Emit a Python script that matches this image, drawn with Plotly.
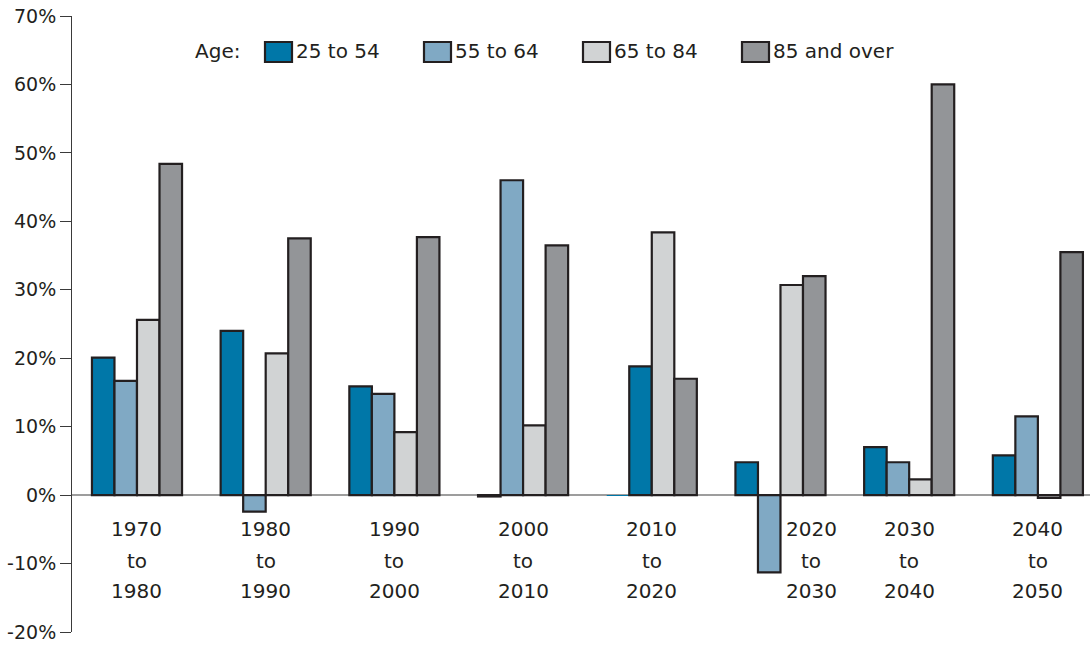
import plotly.graph_objects as go

periods = ["1970 to 1980", "1980 to 1990", "1990 to 2000", "2000 to 2010",
           "2010 to 2020", "2020 to 2030", "2030 to 2040", "2040 to 2050"]
period_start = ["1970", "1980", "1990", "2000", "2010", "2020", "2030", "2040"]
period_end = ["1980", "1990", "2000", "2010", "2020", "2030", "2040", "2050"]

age_25_54 = [20.1, 24.0, 15.9, -0.2, -0.1, 4.8, 7.0, 5.8]
age_55_64 = [16.7, -2.4, 14.8, 46.0, 18.8, -11.3, 4.8, 11.5]
age_65_84 = [25.6, 20.7, 9.2, 10.2, 38.4, 30.7, 2.3, -0.4]
age_85_up = [48.4, 37.5, 37.7, 36.5, 17.0, 32.0, 60.0, 35.5]

series_names = ["25 to 54", "55 to 64", "65 to 84", "85 and over"]
series_values = [age_25_54, age_55_64, age_65_84, age_85_up]
series_colors = ["#0077a8", "#80a9c4", "#d1d3d4", "#939598"]

y_ticks = [-20, -10, 0, 10, 20, 30, 40, 50, 60, 70]

FONT = "DejaVu Sans"
TXT = "#231f20"
OUTLINE = "#231f20"

fig = go.Figure()
n = len(periods)
for name, vals, col in zip(series_names, series_values, series_colors):
    colors = [col] * n
    widths = [2.2] * n
    if name == "25 to 54":
        widths[4] = 0  # near-zero sliver drawn without outline
    if name == "55 to 64":
        colors[4] = "#0077a8"  # shown in the darker blue in the source
    if name == "85 and over":
        colors[7] = "#808285"
    fig.add_trace(go.Bar(
        x=periods, y=vals, name=name,
        marker=dict(color=colors, line=dict(color=OUTLINE, width=widths)),
        showlegend=False, hoverinfo="skip",
    ))

# category labels (three lines each)
for i, (s, e) in enumerate(zip(period_start, period_end)):
    shift = 31 if s == "2020" else 0
    for txt, yv in ((s, -4.9), ("to", -9.6), (e, -13.95)):
        fig.add_annotation(x=periods[i], y=yv, xref="x", yref="y", text=txt,
                           showarrow=False, xshift=shift, yanchor="middle",
                           font=dict(family=FONT, size=20, color=TXT))

W, H = 1090, 646
L, R, T, B = 72, 0, 16, 14
pw, ph = W - L - R, H - T - B
def px(xp):
    return (xp - L) / pw
def py(yp):
    return (H - B - yp) / ph

# manual legend
fig.add_annotation(x=px(193), y=py(51), xref="paper", yref="paper", text="Age:",
                   showarrow=False, xanchor="left", yanchor="middle",
                   font=dict(family=FONT, size=20, color=TXT))
swatch_x = [265, 424, 583, 742]
for sx, name, col in zip(swatch_x, series_names, series_colors):
    fig.add_shape(type="rect", xref="paper", yref="paper",
                  x0=px(sx), x1=px(sx + 27), y0=py(62), y1=py(42),
                  fillcolor=col, line=dict(color=OUTLINE, width=2.2))
    fig.add_annotation(x=px(sx + 29), y=py(51), xref="paper", yref="paper", text=name,
                       showarrow=False, xanchor="left", yanchor="middle",
                       font=dict(family=FONT, size=20, color=TXT))

fig.update_layout(
    width=W, height=H,
    margin=dict(l=L, r=R, t=T, b=B, autoexpand=False),
    paper_bgcolor="white", plot_bgcolor="white",
    barmode="group", bargap=0.3, bargroupgap=0,
    font=dict(family=FONT, size=19, color=TXT),
)
fig.update_xaxes(type="category", range=[-0.505, 7.405], showticklabels=False,
                 showgrid=False, showline=False, ticks="", zeroline=False,
                 automargin=False)
fig.update_yaxes(range=[-20, 70], tickvals=y_ticks,
                 ticktext=[f"{v}%" for v in y_ticks],
                 showgrid=False, showline=True, linecolor="#3a3a3a", linewidth=1,
                 ticks="outside", ticklen=11, tickcolor="#3a3a3a", tickwidth=1,
                 zeroline=True, zerolinecolor="#9d9d9d", zerolinewidth=1.5,
                 automargin=False, ticklabeloverflow="allow",
                 tickfont=dict(family=FONT, size=19, color=TXT))

fig.write_html("out.html",
               config={"displayModeBar": False},
               post_script="document.body.style.margin='0';document.body.style.overflow='hidden';")
